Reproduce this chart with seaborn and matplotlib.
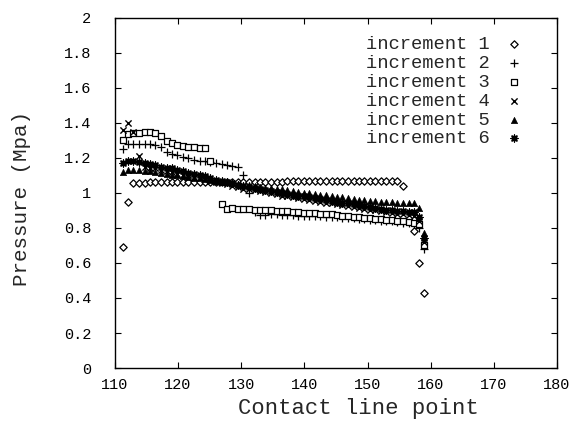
import numpy as np
import pandas as pd
import matplotlib
matplotlib.use("Agg")
import matplotlib.pyplot as plt
import seaborn as sns
from matplotlib.ticker import FuncFormatter

sns.set_theme(style="ticks")
plt.rcParams['font.family'] = ['Liberation Mono', 'DejaVu Sans Mono']

nan = np.nan
contact_point = [111.2, 112.1, 112.9, 113.8, 114.7, 115.5, 116.4, 117.3, 118.2, 119.0,
                 119.9, 120.8, 121.6, 122.5, 123.4, 124.2, 125.1, 126.0, 126.9, 127.7,
                 128.6, 129.5, 130.3, 131.2, 132.1, 133.0, 133.8, 134.7, 135.6, 136.4,
                 137.3, 138.2, 139.0, 139.9, 140.8, 141.7, 142.5, 143.4, 144.3, 145.1,
                 146.0, 146.9, 147.8, 148.6, 149.5, 150.4, 151.2, 152.1, 153.0, 153.8,
                 154.7, 155.6, 156.5, 157.3, 158.2, 159.0]

increment_1 = [0.69, 0.95, 1.055, 1.057, 1.058, 1.06, 1.06, 1.06, 1.061, 1.061,
               1.062, 1.062, 1.062, 1.063, 1.063, 1.063, 1.063, 1.064, 1.064, 1.064,
               1.064, 1.064, 1.065, 1.065, 1.065, 1.065, 1.065, 1.065, 1.065, 1.065,
               1.066, 1.066, 1.066, 1.066, 1.066, 1.066, 1.066, 1.066, 1.066, 1.066,
               1.066, 1.066, 1.066, 1.066, 1.066, 1.066, 1.066, 1.066, 1.066, 1.066,
               1.066, 1.04, nan, 0.78, 0.60, 0.43]
increment_2 = [1.25, 1.28, 1.28, 1.28, 1.28, 1.28, 1.275, 1.265, 1.235, 1.225,
               1.215, 1.205, 1.20, 1.19, 1.185, 1.18, 1.175, 1.17, 1.165, 1.16,
               1.155, 1.15, 1.10, 1.00, 0.89, 0.875, 0.875, 0.88, 0.878, 0.876,
               0.874, 0.872, 0.87, 0.87, 0.87, 0.868, 0.866, 0.865, 0.862, 0.86,
               0.858, 0.856, 0.854, 0.852, 0.85, 0.847, 0.845, 0.842, 0.84, 0.837,
               0.834, 0.83, 0.826, 0.82, 0.80, 0.68]
increment_3 = [1.30, 1.335, 1.34, 1.345, 1.35, 1.35, 1.345, 1.325, 1.295, 1.285,
               1.275, 1.27, 1.265, 1.26, 1.255, 1.255, 1.18, nan, 0.935, 0.91,
               0.915, 0.91, 0.908, 0.906, 0.905, 0.904, 0.902, 0.90, 0.898, 0.896,
               0.894, 0.892, 0.89, 0.888, 0.886, 0.884, 0.882, 0.88, 0.877, 0.874,
               0.871, 0.868, 0.865, 0.862, 0.859, 0.856, 0.853, 0.85, 0.847, 0.844,
               0.841, 0.838, 0.835, 0.83, 0.82, 0.70]
increment_4 = [1.36, 1.40, 1.35, 1.21, 1.15, 1.145, 1.14, 1.13, 1.125, 1.12,
               1.11, 1.105, 1.10, 1.09, 1.085, 1.08, 1.07, 1.06, 1.055, 1.05,
               1.04, 1.035, 1.025, 1.02, 1.015, 1.01, 1.005, 1.0, 0.995, 0.985,
               0.98, 0.975, 0.97, 0.965, 0.96, 0.955, 0.95, 0.945, 0.94, 0.935,
               0.93, 0.925, 0.92, 0.915, 0.91, 0.905, 0.90, 0.895, 0.89, 0.885,
               0.88, 0.878, 0.875, 0.87, 0.84, 0.72]
increment_5 = [1.12, 1.13, 1.13, 1.13, 1.127, 1.125, 1.12, 1.115, 1.11, 1.105,
               1.10, 1.095, 1.09, 1.087, 1.083, 1.08, 1.075, 1.07, 1.065, 1.06,
               1.055, 1.05, 1.047, 1.043, 1.04, 1.035, 1.03, 1.027, 1.023, 1.02,
               1.015, 1.01, 1.006, 1.002, 0.998, 0.994, 0.99, 0.986, 0.982, 0.978,
               0.974, 0.97, 0.966, 0.962, 0.958, 0.955, 0.952, 0.95, 0.948, 0.946,
               0.944, 0.942, 0.94, 0.94, 0.915, 0.77]
increment_6 = [1.17, 1.18, 1.18, 1.175, 1.17, 1.165, 1.16, 1.15, 1.145, 1.14,
               1.13, 1.125, 1.115, 1.11, 1.10, 1.095, 1.085, 1.075, 1.07, 1.06,
               1.055, 1.048, 1.04, 1.035, 1.03, 1.02, 1.015, 1.01, 1.005, 1.0,
               0.995, 0.99, 0.985, 0.98, 0.975, 0.97, 0.965, 0.96, 0.955, 0.95,
               0.945, 0.94, 0.935, 0.93, 0.925, 0.92, 0.915, 0.91, 0.905, 0.90,
               0.897, 0.895, 0.893, 0.89, 0.86, 0.74]

labels = ["increment 1", "increment 2", "increment 3",
          "increment 4", "increment 5", "increment 6"]
series = [increment_1, increment_2, increment_3, increment_4, increment_5, increment_6]

x_ticks = [110, 120, 130, 140, 150, 160, 170, 180]
y_ticks = [0, 0.2, 0.4, 0.6, 0.8, 1.0, 1.2, 1.4, 1.6, 1.8, 2.0]

styles = [
    dict(marker="D", s=14, facecolor="white", edgecolor="black", linewidth=0.9),
    dict(marker="+", s=26, color="black", linewidth=0.9),
    dict(marker="s", s=22, facecolor="white", edgecolor="black", linewidth=0.9),
    dict(marker="x", s=20, color="black", linewidth=1.0),
    dict(marker="^", s=20, facecolor="black", edgecolor="black", linewidth=0.5),
    dict(marker=(8, 2, 0), s=24, color="black", linewidth=1.0),
]

fig = plt.figure(figsize=(5.74, 4.24), dpi=100)
ax = fig.add_axes([0.2003, 0.132, 0.770, 0.826])

for lab, vals, st in zip(labels, series, styles):
    df = pd.DataFrame({"x": contact_point, "y": vals}).dropna()
    sns.scatterplot(data=df, x="x", y="y", ax=ax, label=lab, **st)

ax.set_xlim(110, 180)
ax.set_ylim(0, 2)
ax.set_xticks(x_ticks)
ax.set_yticks(y_ticks)
ax.yaxis.set_major_formatter(FuncFormatter(lambda v, p: f"{v:g}"))
ax.tick_params(direction="in", top=True, right=True, length=4.5, width=0.8,
               labelsize=11, colors="black")
ax.tick_params(axis="y", pad=17)
ax.tick_params(axis="x", pad=7)
for sp in ax.spines.values():
    sp.set_visible(True)
    sp.set_linewidth(1.0)
    sp.set_color("black")

ax.set_xlabel("Contact line point", fontsize=16)
ax.xaxis.set_label_coords(0.55, -0.085)
ax.set_ylabel("Pressure (Mpa)", fontsize=15)
ax.yaxis.set_label_coords(-0.19, 0.485)

leg = ax.legend(loc="upper right", bbox_to_anchor=(0.95, 0.985), frameon=False,
                markerfirst=False, fontsize=13.5, handlelength=0.8,
                handletextpad=0.9, labelspacing=0.09, borderpad=0.2)

fig.savefig("out.png", dpi=100, facecolor="white")
